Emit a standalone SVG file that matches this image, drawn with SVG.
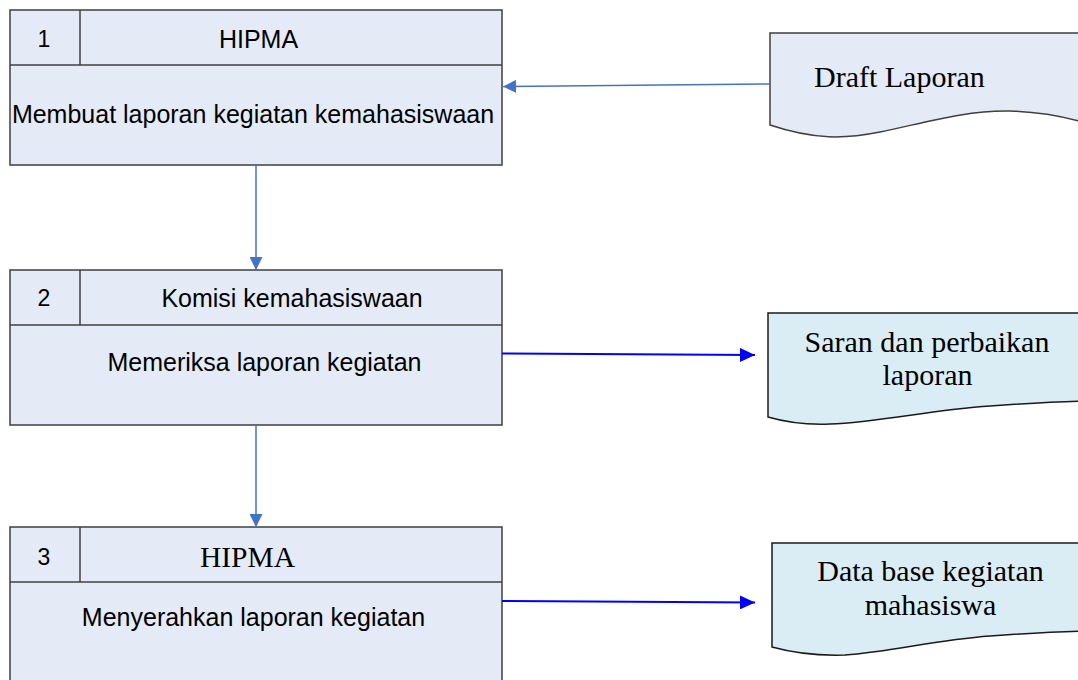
<svg xmlns="http://www.w3.org/2000/svg" width="1078" height="680" viewBox="0 0 1078 680">
  <style>
    .box { fill: #E4EBF6; stroke: #3F3F3F; stroke-width: 1.5; }
    .div { fill: none; stroke: #3F3F3F; stroke-width: 1.5; }
    .doc-a { fill: #E4EBF6; stroke: #3F3F3F; stroke-width: 1.5; }
    .doc-b { fill: #DAEDF4; stroke: #1A1A1A; stroke-width: 1.5; }
    .sans { font-family: "Liberation Sans", Arial, sans-serif; fill: #000; }
    .serif { font-family: "Liberation Serif", "Times New Roman", serif; fill: #000; }
    .num { font-size: 23px; text-anchor: middle; }
    .hd { font-size: 25px; text-anchor: middle; }
    .body { font-size: 25px; text-anchor: middle; }
    .doc-text { font-size: 30px; }
    .flow-soft { stroke: #4472C4; stroke-width: 1.5; fill: none; }
    .flow-blue { stroke: #0000FF; stroke-width: 2; fill: none; }
  </style>
  <defs>
    <marker id="head-soft" markerUnits="userSpaceOnUse" markerWidth="14" markerHeight="13" refX="13" refY="6.5" orient="auto">
      <path d="M0,0 L13,6.5 L0,13 Z" fill="#4472C4"/>
    </marker>
    <marker id="head-blue" markerUnits="userSpaceOnUse" markerWidth="16" markerHeight="14" refX="15" refY="7" orient="auto">
      <path d="M0,0 L15,7 L0,14 Z" fill="#0000FF"/>
    </marker>
  </defs>

  <rect width="1078" height="680" fill="#FFFFFF"/>

  <!-- process 1 -->
  <g id="proc1">
    <rect class="box" x="10" y="10" width="492" height="155"/>
    <line class="div" x1="10" y1="65" x2="502" y2="65"/>
    <line class="div" x1="80" y1="10" x2="80" y2="65"/>
    <text class="sans num" x="44" y="47">1</text>
    <text class="sans hd" x="258.5" y="48">HIPMA</text>
    <text class="sans body" x="253" y="123">Membuat laporan kegiatan kemahasiswaan</text>
  </g>

  <!-- process 2 -->
  <g id="proc2">
    <rect class="box" x="10" y="270" width="492" height="155"/>
    <line class="div" x1="10" y1="325" x2="502" y2="325"/>
    <line class="div" x1="80" y1="270" x2="80" y2="325"/>
    <text class="sans num" x="44" y="306">2</text>
    <text class="sans hd" x="292" y="307">Komisi kemahasiswaan</text>
    <text class="sans body" x="264.5" y="371">Memeriksa laporan kegiatan</text>
  </g>

  <!-- process 3 -->
  <g id="proc3">
    <rect class="box" x="10" y="527" width="492" height="170"/>
    <line class="div" x1="10" y1="582" x2="502" y2="582"/>
    <line class="div" x1="80" y1="527" x2="80" y2="582"/>
    <text class="sans num" x="44" y="565">3</text>
    <text class="serif" x="247.5" y="567" font-size="29.5" text-anchor="middle">HIPMA</text>
    <text class="sans body" x="253.5" y="626">Menyerahkan laporan kegiatan</text>
  </g>

  <!-- document: draft -->
  <g id="doc-draft">
    <path class="doc-a" d="M770,125 L770,33 L1090,33 L1090,124 C1070,118 1045,112 1010,111 C965,110 920,124 880,132 C845,139 815,140 770,125 Z"/>
    <text class="serif doc-text" x="814" y="87">Draft Laporan</text>
  </g>

  <!-- document: suggestions -->
  <g id="doc-saran">
    <path class="doc-b" d="M768,417 L768,313 L1090,313 L1090,401 C1060,401 1030,403 990,406 C930,410 880,422 830,424 C805,425 785,422 768,417 Z"/>
    <text class="serif doc-text" x="927" y="352" text-anchor="middle">Saran dan perbaikan</text>
    <text class="serif doc-text" x="927.5" y="385" text-anchor="middle">laporan</text>
  </g>

  <!-- document: database -->
  <g id="doc-db">
    <path class="doc-b" d="M772,647 L772,543 L1090,543 L1090,631 C1060,631 1030,633 990,636 C935,640 890,652 845,655 C815,656 790,652 772,647 Z"/>
    <text class="serif doc-text" x="930.5" y="581" text-anchor="middle">Data base kegiatan</text>
    <text class="serif doc-text" x="930.5" y="615" text-anchor="middle">mahasiswa</text>
  </g>

  <!-- connectors -->
  <g id="connectors">
    <line class="flow-soft" x1="770" y1="84" x2="503" y2="86.5" marker-end="url(#head-soft)"/>
    <line class="flow-soft" x1="256" y1="165" x2="256" y2="270" marker-end="url(#head-soft)"/>
    <line class="flow-soft" x1="256" y1="425" x2="256" y2="527" marker-end="url(#head-soft)"/>
    <line class="flow-blue" x1="502" y1="353.5" x2="755" y2="355" marker-end="url(#head-blue)"/>
    <line class="flow-blue" x1="502" y1="601" x2="755" y2="602.5" marker-end="url(#head-blue)"/>
  </g>
</svg>
